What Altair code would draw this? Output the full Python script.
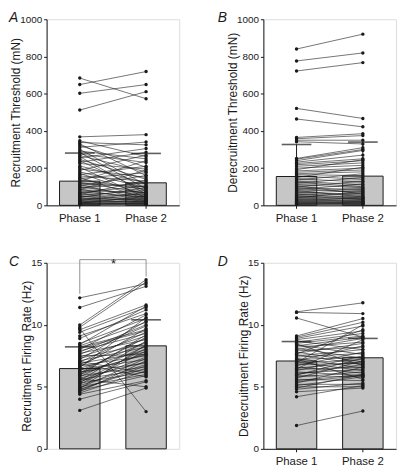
import altair as alt
import pandas as pd

phases = ["Phase 1", "Phase 2"]

# Panel A: recruitment threshold (mN), paired units
a_p1 = [684, 649, 602, 512, 368, 347, 338, 330, 322, 312, 301, 292, 284, 276, 268, 262, 255, 247, 240, 232,
        225, 212, 205, 196, 188, 180, 172, 165, 158, 150, 145, 138, 130, 124, 118, 112, 106, 100, 95, 88,
        84, 78, 72, 68, 63, 58, 54, 50, 46, 42, 38, 34, 31, 28, 25, 22, 19, 16, 14, 12, 10, 8, 6, 5, 3]
a_p2 = [573, 719, 649, 611, 380, 262, 325, 160, 205, 340, 110, 250, 90, 230, 180, 60, 305, 140, 75, 285,
        195, 120, 40, 150, 270, 95, 55, 210, 130, 35, 175, 85, 240, 65, 100, 30, 160, 50, 120, 25,
        190, 70, 45, 105, 20, 135, 80, 15, 60, 95, 28, 50, 12, 40, 70, 18, 35, 8, 25, 48, 10, 22, 5, 14, 6]
a_mean = [130, 121]
a_cap = [281, 279]

# Panel B: derecruitment threshold (mN)
b_p1 = [840, 776, 722, 521, 464, 365, 358, 350, 342, 252, 248, 240, 232, 225, 218, 210, 200, 192, 185, 178,
        170, 165, 158, 150, 143, 136, 130, 124, 118, 112, 106, 100, 95, 90, 85, 80, 75, 70, 65, 60,
        56, 52, 48, 44, 40, 36, 33, 30, 27, 24, 21, 18, 15, 12, 10, 8, 6, 4]
b_p2 = [920, 819, 767, 467, 422, 385, 375, 350, 330, 310, 300, 295, 270, 250, 240, 228, 215, 245, 200, 190,
        180, 160, 140, 205, 125, 170, 110, 100, 150, 95, 60, 130, 85, 70, 115, 45, 90, 55, 80, 40,
        65, 30, 50, 35, 75, 25, 45, 20, 38, 15, 30, 12, 22, 8, 18, 6, 12, 4]
b_mean = [155, 157]
b_cap = [327, 340]

# Panel C: recruitment firing rate (Hz)
c_p1 = [12.17, 11.39, 9.98, 9.8, 9.7, 9.6, 9.4, 9.1, 8.9, 8.5, 8.4, 8.3, 8.2, 8.0, 7.9, 7.8, 7.7, 7.6, 7.5, 7.4,
        7.3, 7.2, 7.1, 7.0, 6.9, 6.8, 6.7, 6.6, 6.5, 6.4, 6.3, 6.2, 6.1, 6.0, 5.9, 5.8, 5.7, 5.6, 5.5, 5.4,
        5.3, 5.2, 5.1, 5.0, 4.9, 4.8, 4.7, 4.6, 4.5, 4.4, 4.0, 3.1, 6.55, 5.95, 7.05, 5.35, 6.85, 4.75, 8.1, 5.65,
        6.15, 4.85]
c_p2 = [13.3, 13.1, 13.64, 13.45, 3.0, 11.6, 11.4, 10.9, 11.2, 10.5, 11.5, 10.2, 9.6, 10.8, 9.3, 10.0, 8.8, 9.9, 7.6, 9.1,
        8.5, 10.3, 8.2, 9.4, 7.8, 8.9, 7.5, 9.7, 8.0, 7.2, 8.6, 6.9, 9.0, 7.7, 6.6, 8.3, 7.0, 6.4, 8.7, 7.4,
        6.2, 7.9, 6.8, 6.0, 7.3, 6.5, 5.9, 7.1, 6.3, 5.5, 5.4, 4.9, 10.6, 9.2, 6.1, 8.1, 5.8, 6.7, 9.5, 5.0,
        7.6, 8.4]
c_mean = [6.47, 8.3]
c_cap = [8.22, 10.4]
c_bracket_top = [15.25, 15.25]
c_bracket_low = [12.5, 13.9]

# Panel D: derecruitment firing rate (Hz)
d_p1 = [11.04, 11.0, 10.55, 9.1, 9.0, 8.9, 8.8, 8.7, 8.6, 8.5, 8.4, 8.3, 8.2, 8.1, 8.0, 7.9, 7.8, 7.7, 7.6, 7.5,
        7.4, 7.3, 7.2, 7.1, 7.0, 6.9, 6.8, 6.7, 6.6, 6.5, 6.4, 6.3, 6.2, 6.1, 6.0, 5.9, 5.8, 5.7, 5.6, 5.5,
        5.4, 5.3, 5.2, 5.1, 5.0, 4.9, 4.8, 4.6, 4.2, 1.88, 7.65, 6.95, 8.45, 5.95, 7.25, 6.45]
d_p2 = [11.77, 10.9, 9.0, 10.5, 10.2, 9.9, 9.5, 8.0, 9.3, 9.1, 7.6, 9.0, 8.6, 7.3, 8.9, 8.2, 7.0, 8.5, 6.8, 8.0,
        7.7, 6.5, 7.4, 8.3, 6.3, 7.2, 6.9, 7.8, 6.1, 7.0, 6.6, 7.5, 5.9, 6.4, 6.8, 5.8, 6.2, 7.1, 5.5, 6.0,
        5.9, 6.6, 5.2, 5.8, 5.0, 6.0, 5.3, 4.9, 5.1, 3.05, 9.6, 10.0, 6.7, 7.3, 5.6, 8.8]
d_mean = [7.08, 7.34]
d_cap = [8.65, 8.9]

FONT = "Liberation Sans"
INK = "#1a1a1a"
W, H = 134, 188


def long_df(p1, p2):
    rows = []
    for i, (u, v) in enumerate(zip(p1, p2)):
        rows.append({"unit": i, "phase": phases[0], "value": u})
        rows.append({"unit": i, "phase": phases[1], "value": v})
    return pd.DataFrame(rows)


def panel(letter, ytitle, p1, p2, means, caps, ymax, ticks, letter_dx, bracket=None):
    pts = long_df(p1, p2)
    summ = pd.DataFrame({"phase": phases, "value": means, "cap": caps})
    xs = alt.Scale(domain=phases, paddingInner=0.39, paddingOuter=0.195)
    ys = alt.Scale(domain=[0, ymax], nice=False)
    xenc = alt.X("phase:N", scale=xs, sort=phases,
                 axis=alt.Axis(title=None, labelAngle=0, labelFontSize=11.5, labelFont=FONT,
                               labelColor=INK, tickSize=3, tickColor=INK, domainColor=INK,
                               labelPadding=4, grid=False))
    yaxis = alt.Axis(title=ytitle, values=ticks, format="d", titleFontSize=12, titleFont=FONT,
                     titleFontWeight="normal", titleColor=INK, labelFontSize=10, labelFont=FONT,
                     labelColor=INK, tickSize=3, tickColor=INK, domainColor=INK, labelPadding=2,
                     titlePadding=-3, grid=False)

    def yenc(field):
        return alt.Y(f"{field}:Q", scale=ys, axis=yaxis, title=ytitle)

    bars = alt.Chart(summ).mark_bar(fill="#c6c6c6", stroke=INK, strokeWidth=1).encode(
        x=xenc, y=yenc("value"))
    err = alt.Chart(summ).mark_rule(color=INK, strokeWidth=1).encode(
        x=xenc, y=yenc("value"), y2="cap:Q")
    lines = alt.Chart(pts).mark_line(color=INK, strokeWidth=0.6).encode(
        x=xenc, y=yenc("value"), detail="unit:N")
    dots = alt.Chart(pts).mark_circle(size=12, color=INK, opacity=1).encode(
        x=xenc, y=yenc("value"))
    capm = alt.Chart(summ).mark_tick(size=30, thickness=1.6, color=INK).encode(
        x=xenc, y=yenc("cap"))
    layers = [bars, err, lines, dots, capm]
    if bracket is not None:
        top, low = bracket
        bdf = pd.DataFrame({"phase": phases, "top": top, "low": low})
        hdf = pd.DataFrame({"a": [phases[0]], "b": [phases[1]], "top": [top[0]]})
        legs = alt.Chart(bdf).mark_rule(color="#777777", strokeWidth=0.8, clip=False).encode(
            x=xenc, y=yenc("low"), y2="top:Q")
        hline = alt.Chart(hdf).mark_rule(color="#777777", strokeWidth=0.8, clip=False).encode(
            x=alt.X("a:N", scale=xs, axis=None), x2="b:N", y=yenc("top"))
        star = alt.Chart(hdf).mark_text(text="*", fontSize=13, font=FONT, color=INK, dx=34,
                                        dy=4, baseline="middle").encode(
            x=alt.X("a:N", scale=xs, axis=None), y=yenc("top"))
        layers += [legs, hline, star]
    return alt.layer(*layers).properties(
        width=W, height=H,
        title=alt.TitleParams(letter, anchor="start", frame="group", fontStyle="italic",
                              fontWeight="normal", fontSize=14, font=FONT, color=INK,
                              dx=letter_dx, offset=-11))


A = panel("A", "Recruitment Threshold (mN)", a_p1, a_p2, a_mean, a_cap, 1000,
          [0, 200, 400, 600, 800, 1000], -38)
B = panel("B", "Derecruitment Threshold (mN)", b_p1, b_p2, b_mean, b_cap, 1000,
          [0, 200, 400, 600, 800, 1000], -46)
C = panel("C", "Recruitment Firing Rate (Hz)", c_p1, c_p2, c_mean, c_cap, 15, [0, 5, 10, 15], -38,
          bracket=(c_bracket_top, c_bracket_low))
D = panel("D", "Derecruitment Firing Rate (Hz)", d_p1, d_p2, d_mean, d_cap, 15, [0, 5, 10, 15], -46)

chart = alt.vconcat(
    alt.hconcat(A, B, spacing=37),
    alt.hconcat(C, D, spacing=37),
    spacing=30,
).properties(padding=0).configure_view(stroke=None).configure(background="white")

chart.save("out.html", embed_options={"renderer": "svg", "actions": False})
